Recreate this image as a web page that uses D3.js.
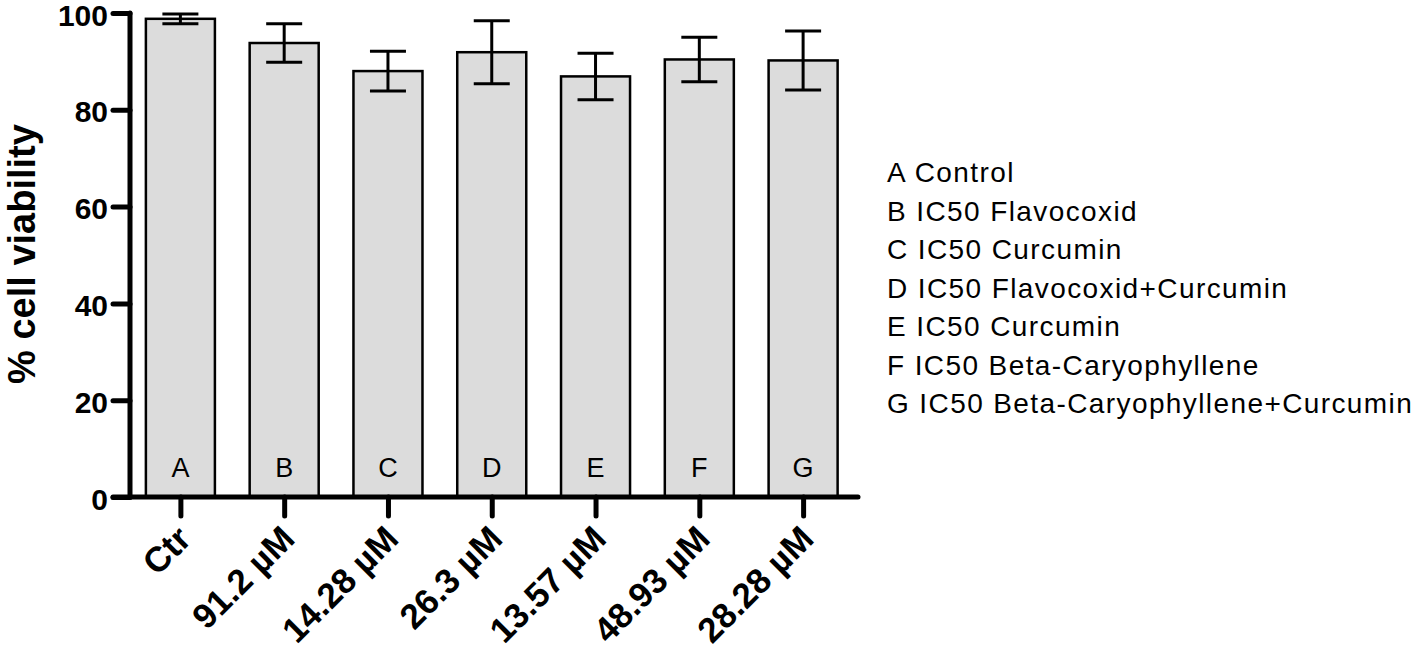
<!DOCTYPE html>
<html>
<head>
<meta charset="utf-8">
<script src="https://cdn.jsdelivr.net/npm/d3@7"></script>
<style>
body{margin:0;background:#fff;}
svg text{font-family:"Liberation Sans",Arial,sans-serif;}
</style>
</head>
<body>
<svg id="svg" width="1417" height="661"></svg>
<script>
// chart data
var letters=["A","B","C","D","E","F","G"];
var doses=["Ctr","91.2 \u00b5M","14.28 \u00b5M","26.3 \u00b5M","13.57 \u00b5M","48.93 \u00b5M","28.28 \u00b5M"];
var viability=[98.8,93.8,88.0,91.9,86.9,90.4,90.2];
var sem=[1.0,4.0,4.1,6.5,4.8,4.6,6.1];
var yTicks=[0,20,40,60,80,100];
var legendItems=["A Control","B IC50 Flavocoxid","C IC50 Curcumin","D IC50 Flavocoxid+Curcumin",
    "E IC50 Curcumin","F IC50 Beta-Caryophyllene","G IC50 Beta-Caryophyllene+Curcumin"];

function draw(){
    var svg=d3.select("#svg");
    var x0=128.5, x1=855, y0=497, y1=13;

    var x=d3.scalePoint().domain(letters).range([x0,x1]).padding(0.5);
    var step=x.step();
    var bw=step*0.665;
    var y=d3.scaleLinear().domain([0,100]).range([y0,y1]);

    // bars
    svg.selectAll("rect.bar").data(letters).enter().append("rect")
    .attr("class","bar")
    .attr("x",function(d){return x(d)-bw/2})
    .attr("y",function(d,i){return y(viability[i])})
    .attr("width",bw)
    .attr("height",function(d,i){return y(0)-y(viability[i])})
    .style("fill","#dcdcdc").style("stroke","#000").style("stroke-width",2.5);

    // error bars
    var eb=svg.selectAll("g.err").data(letters).enter().append("g").attr("class","err")
    .style("stroke","#000").style("stroke-width",3);
    eb.append("line")
    .attr("x1",function(d){return x(d)}).attr("x2",function(d){return x(d)})
    .attr("y1",function(d,i){return y(viability[i]+sem[i])})
    .attr("y2",function(d,i){return y(viability[i]-sem[i])});
    [1,-1].forEach(function(s){
        eb.append("line")
        .attr("x1",function(d){return x(d)-18}).attr("x2",function(d){return x(d)+18})
        .attr("y1",function(d,i){return y(viability[i]+s*sem[i])})
        .attr("y2",function(d,i){return y(viability[i]+s*sem[i])});
    });

    // letters inside bars
    svg.selectAll("text.let").data(letters).enter().append("text")
    .attr("class","let")
    .text(function(d){return d})
    .attr("x",function(d){return x(d)}).attr("y",477)
    .attr("text-anchor","middle").attr("font-size","27px");

    // y axis
    var ya=svg.append("g").attr("transform","translate(130,0)")
    .call(d3.axisLeft(y).tickValues(yTicks).tickSize(17).tickSizeOuter(0).tickPadding(5));
    ya.select(".domain").attr("stroke-width",5).attr("stroke-linecap","round")
    .attr("d","M0,"+y1+"V"+y0);
    ya.selectAll(".tick line").attr("stroke-width",5).attr("stroke-linecap","round");
    ya.selectAll(".tick text").attr("font-size","30px").attr("font-weight","bold")
    .attr("font-family","Liberation Sans, Arial, sans-serif").attr("fill","#000")
    .attr("dy","0.4em");

    // x axis
    var xa=svg.append("g").attr("transform","translate(0,"+y0+")")
    .call(d3.axisBottom(x).tickSize(19).tickSizeOuter(0).tickFormat(function(d,i){return doses[i]}));
    xa.select(".domain").attr("stroke-width",5).attr("stroke-linecap","round")
    .attr("d","M113,0H858");
    xa.selectAll(".tick line").attr("stroke-width",5).attr("stroke-linecap","round");
    xa.selectAll(".tick text").attr("font-size","35px").attr("font-weight","bold")
    .attr("font-family","Liberation Sans, Arial, sans-serif").attr("fill","#000")
    .attr("text-anchor","end").attr("dy",0).attr("y",0)
    .attr("transform","translate(12,44) rotate(-45)");

    // y title
    svg.append("text").text("% cell viability")
    .attr("transform","translate(35,254) rotate(-90)")
    .attr("text-anchor","middle").attr("font-size","38px").attr("font-weight","bold");

    // legend
    svg.selectAll("text.leg").data(legendItems).enter().append("text")
    .attr("class","leg")
    .text(function(d){return d})
    .attr("x",887).attr("y",function(d,i){return 182+38.5*i})
    .attr("font-size","28px").style("letter-spacing","1.4px");
}
draw();
</script>
</body>
</html>
